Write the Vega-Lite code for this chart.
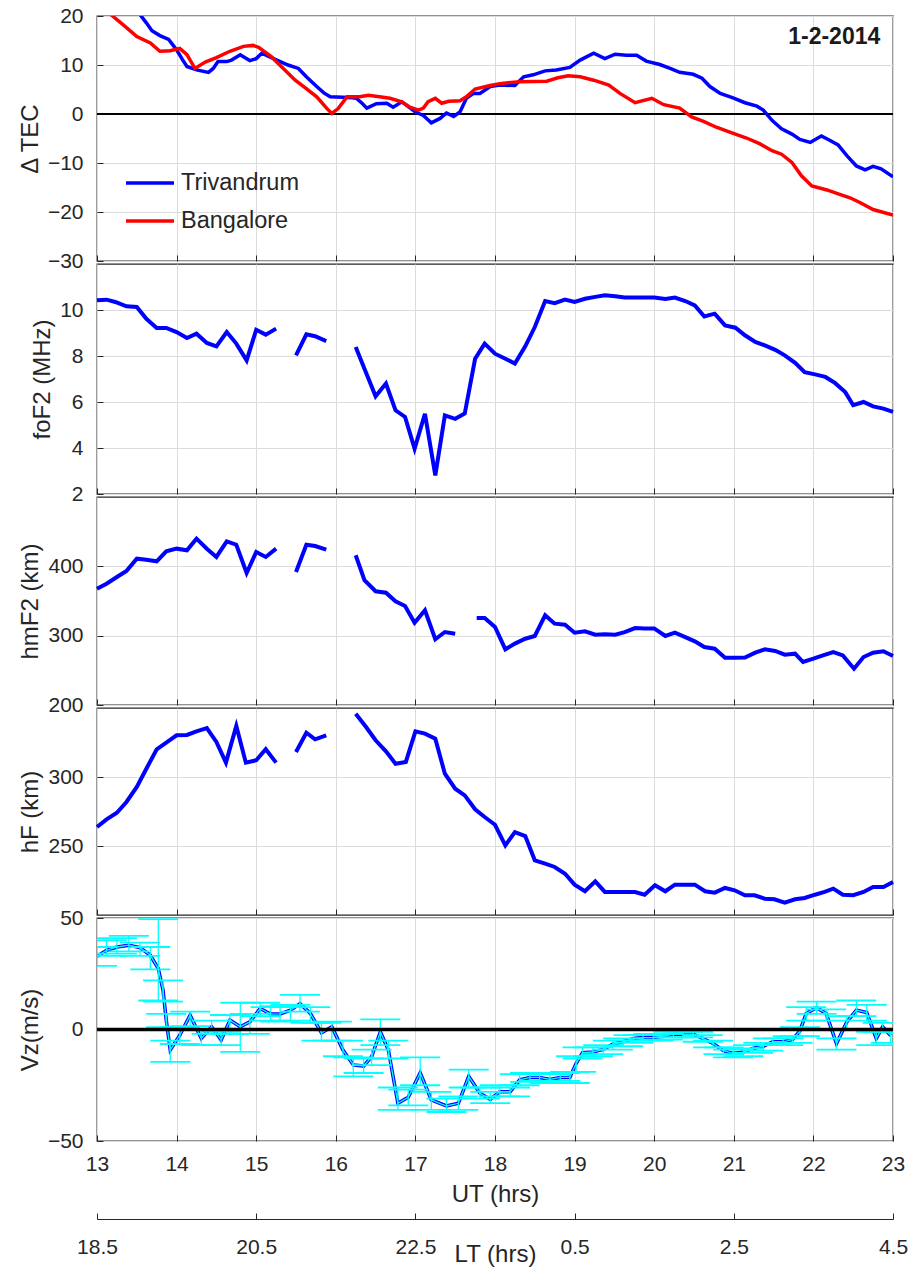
{
  "$schema": "https://vega.github.io/schema/vega-lite/v6.json",
  "background": "white",
  "padding": {"left": 17, "top": 4, "right": 5, "bottom": 2},
  "bounds": "flush",
  "spacing": 3,
  "config": {
    "font": "Liberation Sans",
    "view": {"stroke": "#262626", "strokeWidth": 1.3},
    "axis": {"labelFont": "Liberation Sans", "labelFontSize": 21, "labelColor": "#262626", "titleFont": "Liberation Sans", "titleFontSize": 24, "titleFontWeight": "normal", "titleColor": "#262626", "gridColor": "#dcdcdc", "gridWidth": 1, "tickColor": "#262626", "tickWidth": 1, "domain": false, "labelFlush": false, "labelOverlap": false},
    "axisX": {"tickSize": -6, "grid": true},
    "axisY": {"tickSize": -6, "labelPadding": 20, "titlePadding": 5, "grid": true}
  },
  "datasets": {
    "tec": [
      {"t":13.0,"v":30,"s":"Trivandrum"},{"t":13.25,"v":25.5,"s":"Trivandrum"},{"t":13.42,"v":22.4,"s":"Trivandrum"},{"t":13.54,"v":20.3,"s":"Trivandrum"},{"t":13.62,"v":18.6,"s":"Trivandrum"},{"t":13.69,"v":17,"s":"Trivandrum"},{"t":13.79,"v":16,"s":"Trivandrum"},{"t":13.9,"v":15.2,"s":"Trivandrum"},{"t":14.0,"v":13.1,"s":"Trivandrum"},{"t":14.07,"v":11.2,"s":"Trivandrum"},{"t":14.13,"v":9.7,"s":"Trivandrum"},{"t":14.25,"v":9.0,"s":"Trivandrum"},{"t":14.4,"v":8.5,"s":"Trivandrum"},{"t":14.46,"v":9.3,"s":"Trivandrum"},{"t":14.52,"v":10.7,"s":"Trivandrum"},{"t":14.63,"v":10.7,"s":"Trivandrum"},{"t":14.69,"v":11.0,"s":"Trivandrum"},{"t":14.8,"v":12.1,"s":"Trivandrum"},{"t":14.86,"v":11.5,"s":"Trivandrum"},{"t":14.92,"v":10.9,"s":"Trivandrum"},{"t":15.0,"v":11.3,"s":"Trivandrum"},{"t":15.07,"v":12.4,"s":"Trivandrum"},{"t":15.15,"v":11.8,"s":"Trivandrum"},{"t":15.26,"v":11.0,"s":"Trivandrum"},{"t":15.4,"v":10.0,"s":"Trivandrum"},{"t":15.53,"v":9.3,"s":"Trivandrum"},{"t":15.63,"v":7.6,"s":"Trivandrum"},{"t":15.76,"v":5.6,"s":"Trivandrum"},{"t":15.85,"v":4.3,"s":"Trivandrum"},{"t":15.93,"v":3.5,"s":"Trivandrum"},{"t":16.09,"v":3.4,"s":"Trivandrum"},{"t":16.2,"v":3.3,"s":"Trivandrum"},{"t":16.26,"v":3.2,"s":"Trivandrum"},{"t":16.33,"v":2.2,"s":"Trivandrum"},{"t":16.39,"v":1.2,"s":"Trivandrum"},{"t":16.51,"v":2.1,"s":"Trivandrum"},{"t":16.64,"v":2.2,"s":"Trivandrum"},{"t":16.72,"v":1.4,"s":"Trivandrum"},{"t":16.83,"v":2.5,"s":"Trivandrum"},{"t":16.92,"v":1.4,"s":"Trivandrum"},{"t":17.0,"v":0.4,"s":"Trivandrum"},{"t":17.1,"v":-0.3,"s":"Trivandrum"},{"t":17.2,"v":-1.8,"s":"Trivandrum"},{"t":17.31,"v":-0.9,"s":"Trivandrum"},{"t":17.39,"v":0.2,"s":"Trivandrum"},{"t":17.48,"v":-0.5,"s":"Trivandrum"},{"t":17.56,"v":0.4,"s":"Trivandrum"},{"t":17.64,"v":3.2,"s":"Trivandrum"},{"t":17.73,"v":4.2,"s":"Trivandrum"},{"t":17.81,"v":4.2,"s":"Trivandrum"},{"t":17.94,"v":5.6,"s":"Trivandrum"},{"t":18.06,"v":5.9,"s":"Trivandrum"},{"t":18.25,"v":5.8,"s":"Trivandrum"},{"t":18.36,"v":7.6,"s":"Trivandrum"},{"t":18.48,"v":8.0,"s":"Trivandrum"},{"t":18.63,"v":8.8,"s":"Trivandrum"},{"t":18.77,"v":9.0,"s":"Trivandrum"},{"t":18.94,"v":9.5,"s":"Trivandrum"},{"t":19.07,"v":11.0,"s":"Trivandrum"},{"t":19.24,"v":12.4,"s":"Trivandrum"},{"t":19.38,"v":11.3,"s":"Trivandrum"},{"t":19.51,"v":12.2,"s":"Trivandrum"},{"t":19.65,"v":12.0,"s":"Trivandrum"},{"t":19.78,"v":12.0,"s":"Trivandrum"},{"t":19.9,"v":10.8,"s":"Trivandrum"},{"t":20.07,"v":10.1,"s":"Trivandrum"},{"t":20.2,"v":9.3,"s":"Trivandrum"},{"t":20.32,"v":8.5,"s":"Trivandrum"},{"t":20.49,"v":8.1,"s":"Trivandrum"},{"t":20.6,"v":7.3,"s":"Trivandrum"},{"t":20.7,"v":5.6,"s":"Trivandrum"},{"t":20.83,"v":4.2,"s":"Trivandrum"},{"t":20.99,"v":3.3,"s":"Trivandrum"},{"t":21.14,"v":2.3,"s":"Trivandrum"},{"t":21.29,"v":1.6,"s":"Trivandrum"},{"t":21.37,"v":0.8,"s":"Trivandrum"},{"t":21.48,"v":-1.3,"s":"Trivandrum"},{"t":21.6,"v":-3.0,"s":"Trivandrum"},{"t":21.73,"v":-4.1,"s":"Trivandrum"},{"t":21.83,"v":-5.2,"s":"Trivandrum"},{"t":21.96,"v":-5.8,"s":"Trivandrum"},{"t":22.1,"v":-4.5,"s":"Trivandrum"},{"t":22.21,"v":-5.4,"s":"Trivandrum"},{"t":22.31,"v":-6.3,"s":"Trivandrum"},{"t":22.42,"v":-8.5,"s":"Trivandrum"},{"t":22.54,"v":-10.6,"s":"Trivandrum"},{"t":22.65,"v":-11.4,"s":"Trivandrum"},{"t":22.75,"v":-10.7,"s":"Trivandrum"},{"t":22.85,"v":-11.2,"s":"Trivandrum"},{"t":23.0,"v":-12.8,"s":"Trivandrum"},
      {"t":13.0,"v":22.8,"s":"Bangalore"},{"t":13.18,"v":20.2,"s":"Bangalore"},{"t":13.33,"v":18.2,"s":"Bangalore"},{"t":13.5,"v":15.8,"s":"Bangalore"},{"t":13.67,"v":14.5,"s":"Bangalore"},{"t":13.79,"v":12.8,"s":"Bangalore"},{"t":13.92,"v":12.9,"s":"Bangalore"},{"t":14.04,"v":13.4,"s":"Bangalore"},{"t":14.13,"v":12.1,"s":"Bangalore"},{"t":14.23,"v":9.3,"s":"Bangalore"},{"t":14.36,"v":10.6,"s":"Bangalore"},{"t":14.5,"v":11.5,"s":"Bangalore"},{"t":14.67,"v":12.8,"s":"Bangalore"},{"t":14.84,"v":13.8,"s":"Bangalore"},{"t":14.96,"v":14.0,"s":"Bangalore"},{"t":15.03,"v":13.6,"s":"Bangalore"},{"t":15.19,"v":11.7,"s":"Bangalore"},{"t":15.34,"v":9.3,"s":"Bangalore"},{"t":15.49,"v":6.9,"s":"Bangalore"},{"t":15.63,"v":5.2,"s":"Bangalore"},{"t":15.76,"v":3.5,"s":"Bangalore"},{"t":15.89,"v":1.1,"s":"Bangalore"},{"t":15.95,"v":0.1,"s":"Bangalore"},{"t":16.03,"v":1.1,"s":"Bangalore"},{"t":16.14,"v":3.5,"s":"Bangalore"},{"t":16.3,"v":3.5,"s":"Bangalore"},{"t":16.41,"v":3.8,"s":"Bangalore"},{"t":16.55,"v":3.5,"s":"Bangalore"},{"t":16.68,"v":3.2,"s":"Bangalore"},{"t":16.83,"v":2.5,"s":"Bangalore"},{"t":16.93,"v":1.4,"s":"Bangalore"},{"t":17.04,"v":0.8,"s":"Bangalore"},{"t":17.1,"v":1.2,"s":"Bangalore"},{"t":17.16,"v":2.5,"s":"Bangalore"},{"t":17.25,"v":3.2,"s":"Bangalore"},{"t":17.33,"v":2.2,"s":"Bangalore"},{"t":17.42,"v":2.6,"s":"Bangalore"},{"t":17.56,"v":2.7,"s":"Bangalore"},{"t":17.64,"v":3.5,"s":"Bangalore"},{"t":17.75,"v":5.1,"s":"Bangalore"},{"t":17.94,"v":5.8,"s":"Bangalore"},{"t":18.06,"v":6.2,"s":"Bangalore"},{"t":18.31,"v":6.6,"s":"Bangalore"},{"t":18.65,"v":6.7,"s":"Bangalore"},{"t":18.79,"v":7.4,"s":"Bangalore"},{"t":18.92,"v":7.8,"s":"Bangalore"},{"t":19.07,"v":7.6,"s":"Bangalore"},{"t":19.24,"v":6.9,"s":"Bangalore"},{"t":19.43,"v":5.9,"s":"Bangalore"},{"t":19.57,"v":4.2,"s":"Bangalore"},{"t":19.76,"v":2.3,"s":"Bangalore"},{"t":19.97,"v":3.2,"s":"Bangalore"},{"t":20.12,"v":1.9,"s":"Bangalore"},{"t":20.32,"v":1.2,"s":"Bangalore"},{"t":20.47,"v":-0.6,"s":"Bangalore"},{"t":20.62,"v":-1.5,"s":"Bangalore"},{"t":20.78,"v":-2.7,"s":"Bangalore"},{"t":20.95,"v":-3.7,"s":"Bangalore"},{"t":21.16,"v":-4.9,"s":"Bangalore"},{"t":21.33,"v":-6.1,"s":"Bangalore"},{"t":21.48,"v":-7.5,"s":"Bangalore"},{"t":21.6,"v":-8.2,"s":"Bangalore"},{"t":21.73,"v":-9.9,"s":"Bangalore"},{"t":21.85,"v":-12.6,"s":"Bangalore"},{"t":21.98,"v":-14.7,"s":"Bangalore"},{"t":22.17,"v":-15.5,"s":"Bangalore"},{"t":22.33,"v":-16.4,"s":"Bangalore"},{"t":22.46,"v":-17.1,"s":"Bangalore"},{"t":22.59,"v":-18.1,"s":"Bangalore"},{"t":22.75,"v":-19.5,"s":"Bangalore"},{"t":23.0,"v":-20.6,"s":"Bangalore"}
    ],
    "fof2": [
      {"t":13.0,"v":10.42,"g":1},{"t":13.12,"v":10.45,"g":1},{"t":13.23,"v":10.35,"g":1},{"t":13.37,"v":10.16,"g":1},{"t":13.5,"v":10.13,"g":1},{"t":13.62,"v":9.62,"g":1},{"t":13.75,"v":9.22,"g":1},{"t":13.87,"v":9.22,"g":1},{"t":14.0,"v":9.04,"g":1},{"t":14.13,"v":8.78,"g":1},{"t":14.25,"v":8.97,"g":1},{"t":14.38,"v":8.57,"g":1},{"t":14.5,"v":8.42,"g":1},{"t":14.63,"v":9.04,"g":1},{"t":14.75,"v":8.54,"g":1},{"t":14.88,"v":7.81,"g":1},{"t":15.0,"v":9.14,"g":1},{"t":15.12,"v":8.93,"g":1},{"t":15.25,"v":9.19,"g":1},
      {"t":15.5,"v":8.03,"g":2},{"t":15.63,"v":8.94,"g":2},{"t":15.74,"v":8.86,"g":2},{"t":15.88,"v":8.65,"g":2},
      {"t":16.25,"v":8.39,"g":3},{"t":16.36,"v":7.45,"g":3},{"t":16.5,"v":6.25,"g":3},{"t":16.63,"v":6.8,"g":3},{"t":16.75,"v":5.64,"g":3},{"t":16.87,"v":5.35,"g":3},{"t":16.99,"v":3.97,"g":3},{"t":17.12,"v":5.49,"g":3},{"t":17.25,"v":2.81,"g":3},{"t":17.37,"v":5.42,"g":3},{"t":17.5,"v":5.27,"g":3},{"t":17.62,"v":5.5,"g":3},{"t":17.75,"v":7.88,"g":3},{"t":17.87,"v":8.54,"g":3},{"t":18.0,"v":8.1,"g":3},{"t":18.13,"v":7.88,"g":3},{"t":18.25,"v":7.67,"g":3},{"t":18.38,"v":8.42,"g":3},{"t":18.5,"v":9.26,"g":3},{"t":18.63,"v":10.39,"g":3},{"t":18.75,"v":10.3,"g":3},{"t":18.88,"v":10.45,"g":3},{"t":19.0,"v":10.35,"g":3},{"t":19.13,"v":10.49,"g":3},{"t":19.26,"v":10.57,"g":3},{"t":19.38,"v":10.64,"g":3},{"t":19.51,"v":10.6,"g":3},{"t":19.63,"v":10.54,"g":3},{"t":19.76,"v":10.54,"g":3},{"t":19.88,"v":10.54,"g":3},{"t":20.0,"v":10.54,"g":3},{"t":20.14,"v":10.48,"g":3},{"t":20.26,"v":10.54,"g":3},{"t":20.39,"v":10.39,"g":3},{"t":20.51,"v":10.2,"g":3},{"t":20.63,"v":9.72,"g":3},{"t":20.76,"v":9.84,"g":3},{"t":20.89,"v":9.33,"g":3},{"t":21.02,"v":9.23,"g":3},{"t":21.14,"v":8.9,"g":3},{"t":21.27,"v":8.61,"g":3},{"t":21.39,"v":8.46,"g":3},{"t":21.52,"v":8.27,"g":3},{"t":21.64,"v":8.03,"g":3},{"t":21.77,"v":7.7,"g":3},{"t":21.89,"v":7.3,"g":3},{"t":22.02,"v":7.2,"g":3},{"t":22.15,"v":7.09,"g":3},{"t":22.27,"v":6.83,"g":3},{"t":22.4,"v":6.43,"g":3},{"t":22.5,"v":5.86,"g":3},{"t":22.63,"v":6.0,"g":3},{"t":22.75,"v":5.81,"g":3},{"t":22.88,"v":5.71,"g":3},{"t":23.0,"v":5.57,"g":3}
    ],
    "hmf2": [
      {"t":13.0,"v":367.7,"g":1},{"t":13.12,"v":375,"g":1},{"t":13.25,"v":384.6,"g":1},{"t":13.37,"v":393.3,"g":1},{"t":13.5,"v":411,"g":1},{"t":13.62,"v":409.6,"g":1},{"t":13.75,"v":407.2,"g":1},{"t":13.87,"v":421.7,"g":1},{"t":14.0,"v":425.5,"g":1},{"t":14.13,"v":423.1,"g":1},{"t":14.25,"v":439.9,"g":1},{"t":14.38,"v":425.5,"g":1},{"t":14.5,"v":413.5,"g":1},{"t":14.63,"v":436.1,"g":1},{"t":14.75,"v":431.2,"g":1},{"t":14.88,"v":390.4,"g":1},{"t":15.0,"v":420.7,"g":1},{"t":15.12,"v":413.5,"g":1},{"t":15.25,"v":425.5,"g":1},
      {"t":15.5,"v":391.8,"g":2},{"t":15.63,"v":431.2,"g":2},{"t":15.74,"v":429.3,"g":2},{"t":15.88,"v":424,"g":2},
      {"t":16.25,"v":416,"g":3},{"t":16.36,"v":379.9,"g":3},{"t":16.5,"v":364,"g":3},{"t":16.63,"v":362,"g":3},{"t":16.75,"v":349.6,"g":3},{"t":16.87,"v":342.8,"g":3},{"t":16.99,"v":318.7,"g":3},{"t":17.12,"v":336.6,"g":3},{"t":17.25,"v":294.8,"g":3},{"t":17.37,"v":305.3,"g":3},{"t":17.5,"v":302.9,"g":3},
      {"t":17.77,"v":325.5,"g":4},{"t":17.87,"v":325.5,"g":4},{"t":18.0,"v":312.5,"g":4},{"t":18.13,"v":280.3,"g":4},{"t":18.25,"v":288.5,"g":4},{"t":18.38,"v":295.6,"g":4},{"t":18.5,"v":299.5,"g":4},{"t":18.63,"v":329.4,"g":4},{"t":18.75,"v":317.3,"g":4},{"t":18.88,"v":315.8,"g":4},{"t":19.0,"v":304.3,"g":4},{"t":19.13,"v":306.3,"g":4},{"t":19.26,"v":301.4,"g":4},{"t":19.38,"v":302,"g":4},{"t":19.51,"v":301.4,"g":4},{"t":19.63,"v":305,"g":4},{"t":19.76,"v":311,"g":4},{"t":19.88,"v":310.5,"g":4},{"t":20.0,"v":310.5,"g":4},{"t":20.14,"v":299.5,"g":4},{"t":20.26,"v":304.3,"g":4},{"t":20.39,"v":298,"g":4},{"t":20.51,"v":291.8,"g":4},{"t":20.63,"v":283.6,"g":4},{"t":20.76,"v":281.2,"g":4},{"t":20.89,"v":268.3,"g":4},{"t":21.02,"v":268,"g":4},{"t":21.14,"v":268.5,"g":4},{"t":21.27,"v":275.5,"g":4},{"t":21.39,"v":280.3,"g":4},{"t":21.52,"v":278,"g":4},{"t":21.64,"v":272.6,"g":4},{"t":21.77,"v":274,"g":4},{"t":21.87,"v":262,"g":4},{"t":22.0,"v":266.8,"g":4},{"t":22.12,"v":271.6,"g":4},{"t":22.25,"v":276.4,"g":4},{"t":22.37,"v":271.6,"g":4},{"t":22.51,"v":252.4,"g":4},{"t":22.63,"v":269.2,"g":4},{"t":22.75,"v":275.5,"g":4},{"t":22.88,"v":277.5,"g":4},{"t":23.0,"v":270.7,"g":4}
    ],
    "hf": [
      {"t":13.0,"v":263.8,"g":1},{"t":13.12,"v":269.3,"g":1},{"t":13.25,"v":274.1,"g":1},{"t":13.37,"v":281.9,"g":1},{"t":13.5,"v":292.8,"g":1},{"t":13.62,"v":306,"g":1},{"t":13.75,"v":320.1,"g":1},{"t":13.87,"v":324.9,"g":1},{"t":14.0,"v":330.2,"g":1},{"t":14.13,"v":330.5,"g":1},{"t":14.25,"v":333.1,"g":1},{"t":14.38,"v":335.5,"g":1},{"t":14.5,"v":325.4,"g":1},{"t":14.62,"v":310.4,"g":1},{"t":14.75,"v":337,"g":1},{"t":14.87,"v":310.4,"g":1},{"t":15.0,"v":312.1,"g":1},{"t":15.12,"v":320.1,"g":1},{"t":15.25,"v":310.4,"g":1},
      {"t":15.5,"v":318.1,"g":2},{"t":15.63,"v":332.1,"g":2},{"t":15.74,"v":327.3,"g":2},{"t":15.88,"v":330.2,"g":2},
      {"t":16.25,"v":345.9,"g":3},{"t":16.38,"v":336.2,"g":3},{"t":16.5,"v":326.6,"g":3},{"t":16.63,"v":318.6,"g":3},{"t":16.75,"v":309.6,"g":3},{"t":16.88,"v":310.9,"g":3},{"t":17.0,"v":333.1,"g":3},{"t":17.12,"v":331.4,"g":3},{"t":17.25,"v":327.8,"g":3},{"t":17.37,"v":302.4,"g":3},{"t":17.5,"v":291.5,"g":3},{"t":17.62,"v":286.7,"g":3},{"t":17.75,"v":276.6,"g":3},{"t":17.87,"v":271,"g":3},{"t":18.0,"v":265.4,"g":3},{"t":18.13,"v":250.5,"g":3},{"t":18.25,"v":260.1,"g":3},{"t":18.38,"v":257.2,"g":3},{"t":18.5,"v":239.6,"g":3},{"t":18.63,"v":237.2,"g":3},{"t":18.75,"v":234.8,"g":3},{"t":18.88,"v":229.9,"g":3},{"t":19.0,"v":222,"g":3},{"t":19.13,"v":217.2,"g":3},{"t":19.26,"v":224.4,"g":3},{"t":19.38,"v":216.7,"g":3},{"t":19.51,"v":216.7,"g":3},{"t":19.63,"v":216.7,"g":3},{"t":19.76,"v":216.7,"g":3},{"t":19.88,"v":214.7,"g":3},{"t":20.01,"v":221.5,"g":3},{"t":20.14,"v":217.2,"g":3},{"t":20.26,"v":222,"g":3},{"t":20.39,"v":222,"g":3},{"t":20.51,"v":222,"g":3},{"t":20.64,"v":217.2,"g":3},{"t":20.76,"v":216.2,"g":3},{"t":20.89,"v":219.6,"g":3},{"t":21.01,"v":217.9,"g":3},{"t":21.14,"v":214.3,"g":3},{"t":21.26,"v":214.3,"g":3},{"t":21.39,"v":211.8,"g":3},{"t":21.51,"v":211.4,"g":3},{"t":21.64,"v":208.9,"g":3},{"t":21.77,"v":211.4,"g":3},{"t":21.89,"v":212.3,"g":3},{"t":22.02,"v":214.7,"g":3},{"t":22.14,"v":216.7,"g":3},{"t":22.25,"v":219.1,"g":3},{"t":22.37,"v":214.7,"g":3},{"t":22.5,"v":214.3,"g":3},{"t":22.63,"v":216.7,"g":3},{"t":22.75,"v":220.3,"g":3},{"t":22.88,"v":220.3,"g":3},{"t":23.0,"v":223.9,"g":3}
    ],
    "vz": [
      {"t":13.0,"v":32.8,"lo":28.5,"hi":37},{"t":13.12,"v":35.5,"lo":33,"hi":40},{"t":13.25,"v":37,"lo":34,"hi":41},{"t":13.4,"v":37.8,"lo":35,"hi":42},{"t":13.54,"v":36.7,"lo":33,"hi":39},{"t":13.67,"v":33.3,"lo":27,"hi":37},{"t":13.77,"v":27.3,"lo":13,"hi":49.5},{"t":13.83,"v":17.6,"lo":12.5,"hi":22},{"t":13.87,"v":4.2,"lo":1,"hi":7},{"t":13.92,"v":-9.2,"lo":-14.5,"hi":-5},{"t":14.04,"v":-2.5,"lo":-6.5,"hi":1},{"t":14.17,"v":6.4,"lo":1.5,"hi":8},{"t":14.31,"v":-4.0,"lo":-7,"hi":0},{"t":14.44,"v":1.2,"lo":-2,"hi":4},{"t":14.56,"v":-4.7,"lo":-7,"hi":-1},{"t":14.67,"v":4.2,"lo":-2,"hi":6.5},{"t":14.8,"v":1.2,"lo":-10,"hi":12},{"t":14.92,"v":3.4,"lo":-2,"hi":7},{"t":15.05,"v":9.4,"lo":6,"hi":12},{"t":15.18,"v":6.9,"lo":4,"hi":10},{"t":15.3,"v":7,"lo":3.5,"hi":10.5},{"t":15.43,"v":8.7,"lo":4,"hi":11},{"t":15.55,"v":11.6,"lo":8,"hi":15.5},{"t":15.68,"v":7.2,"lo":3,"hi":10},{"t":15.82,"v":-1.5,"lo":-5,"hi":3},{"t":15.95,"v":1.2,"lo":-5,"hi":3.5},{"t":16.09,"v":-9.2,"lo":-12,"hi":-5},{"t":16.22,"v":-15.9,"lo":-21,"hi":-12.5},{"t":16.35,"v":-16.4,"lo":-19.5,"hi":-13},{"t":16.45,"v":-12.2,"lo":-16,"hi":-9},{"t":16.56,"v":-1.0,"lo":-7,"hi":4.5},{"t":16.66,"v":-9.2,"lo":-13,"hi":-5},{"t":16.78,"v":-33.1,"lo":-36,"hi":-26},{"t":16.91,"v":-30.4,"lo":-34,"hi":-27},{"t":17.06,"v":-19.4,"lo":-25,"hi":-12.5},{"t":17.2,"v":-31.6,"lo":-36,"hi":-28},{"t":17.39,"v":-34.3,"lo":-37,"hi":-31},{"t":17.54,"v":-33.1,"lo":-36,"hi":-30},{"t":17.67,"v":-21,"lo":-26,"hi":-18},{"t":17.81,"v":-28.6,"lo":-31,"hi":-26},{"t":17.94,"v":-31.3,"lo":-33,"hi":-28},{"t":18.06,"v":-27.9,"lo":-30,"hi":-25},{"t":18.19,"v":-27.9,"lo":-30,"hi":-26},{"t":18.31,"v":-22.6,"lo":-25,"hi":-20},{"t":18.44,"v":-21.5,"lo":-23.5,"hi":-19.5},{"t":18.56,"v":-21.5,"lo":-23,"hi":-19.5},{"t":18.69,"v":-22.4,"lo":-24,"hi":-20},{"t":18.82,"v":-21.5,"lo":-23,"hi":-19.5},{"t":18.94,"v":-21.5,"lo":-24,"hi":-19},{"t":19.02,"v":-15.2,"lo":-19,"hi":-12},{"t":19.1,"v":-10.4,"lo":-13,"hi":-8},{"t":19.23,"v":-10.1,"lo":-12,"hi":-8},{"t":19.36,"v":-8.9,"lo":-11,"hi":-7},{"t":19.48,"v":-6.6,"lo":-9,"hi":-5},{"t":19.61,"v":-5.5,"lo":-7.5,"hi":-4},{"t":19.74,"v":-4.0,"lo":-6,"hi":-2.5},{"t":19.86,"v":-3.6,"lo":-5,"hi":-2.5},{"t":19.99,"v":-3.6,"lo":-5,"hi":-2},{"t":20.11,"v":-3.0,"lo":-4.5,"hi":-2},{"t":20.24,"v":-2.1,"lo":-3.5,"hi":-1},{"t":20.36,"v":-2.1,"lo":-3.5,"hi":-1},{"t":20.49,"v":-2.1,"lo":-3.5,"hi":-1},{"t":20.61,"v":-4.0,"lo":-5.5,"hi":-2.5},{"t":20.74,"v":-6.3,"lo":-8,"hi":-5},{"t":20.87,"v":-9.5,"lo":-11,"hi":-8},{"t":20.99,"v":-10.7,"lo":-12.5,"hi":-9},{"t":21.12,"v":-10.1,"lo":-12,"hi":-8.5},{"t":21.24,"v":-8.5,"lo":-10.5,"hi":-7},{"t":21.37,"v":-7.5,"lo":-9.5,"hi":-6},{"t":21.49,"v":-5.5,"lo":-7,"hi":-4},{"t":21.62,"v":-5.5,"lo":-7,"hi":-4},{"t":21.74,"v":-4.5,"lo":-6,"hi":-3},{"t":21.83,"v":-0.6,"lo":-3,"hi":1},{"t":21.91,"v":7.2,"lo":4,"hi":10},{"t":22.04,"v":9.8,"lo":7,"hi":12.5},{"t":22.16,"v":7.2,"lo":4,"hi":9},{"t":22.29,"v":-6.3,"lo":-9,"hi":-4},{"t":22.42,"v":3.4,"lo":0,"hi":6},{"t":22.54,"v":8.7,"lo":6,"hi":13},{"t":22.67,"v":7.6,"lo":4,"hi":11},{"t":22.79,"v":-4.0,"lo":-7,"hi":-1},{"t":22.87,"v":1.2,"lo":-1,"hi":3},{"t":22.97,"v":-2.7,"lo":-6,"hi":-1}
    ]
  },
  "vconcat": [
    {
      "width": 796, "height": 245,
      "layer": [
        {
          "data": {"values": [{}]},
          "mark": {"type": "rule", "color": "black", "strokeWidth": 2},
          "encoding": {"y": {"datum": 0, "type": "quantitative", "scale": {"domain": [-30, 20], "nice": false, "zero": false}, "title": "Δ TEC", "axis": {"values": [-30, -20, -10, 0, 10, 20]}}}
        },
        {
          "data": {"name": "tec"},
          "mark": {"type": "line", "strokeWidth": 3.5, "clip": true},
          "encoding": {
            "x": {"field": "t", "type": "quantitative", "scale": {"domain": [13, 23], "nice": false, "zero": false}, "axis": {"values": [13,14,15,16,17,18,19,20,21,22,23], "labels": false, "title": null}},
            "y": {"field": "v", "type": "quantitative", "scale": {"domain": [-30, 20], "nice": false, "zero": false}, "title": "Δ TEC", "axis": {"values": [-30, -20, -10, 0, 10, 20]}},
            "color": {"field": "s", "type": "nominal", "scale": {"domain": ["Trivandrum", "Bangalore"], "range": ["#0000ff", "#ff0000"]},
              "legend": {"title": null, "orient": "none", "legendX": 27, "legendY": 141, "symbolType": "stroke", "symbolSize": 2304, "symbolStrokeWidth": 3.5, "labelFontSize": 23.5, "labelColor": "#262626", "labelFont": "Liberation Sans", "rowPadding": -7, "padding": 0, "labelOffset": 5}}
          }
        },
        {
          "data": {"values": [{}]},
          "mark": {"type": "text", "text": "1-2-2014", "align": "right", "baseline": "middle", "fontSize": 23, "fontWeight": "bold", "font": "Liberation Sans", "color": "#1a1a1a"},
          "encoding": {"x": {"datum": 22.84, "type": "quantitative"}, "y": {"datum": 15.7, "type": "quantitative"}}
        }
      ]
    },
    {
      "width": 796, "height": 230,
      "data": {"name": "fof2"},
      "mark": {"type": "line", "color": "#0000ff", "strokeWidth": 4},
      "encoding": {
        "x": {"field": "t", "type": "quantitative", "scale": {"domain": [13, 23], "nice": false, "zero": false}, "axis": {"values": [13,14,15,16,17,18,19,20,21,22,23], "labels": false, "title": null}},
        "y": {"field": "v", "type": "quantitative", "scale": {"domain": [2, 12], "nice": false, "zero": false}, "title": "foF2 (MHz)", "axis": {"values": [2, 4, 6, 8, 10]}},
        "detail": {"field": "g"}
      }
    },
    {
      "width": 796, "height": 208,
      "data": {"name": "hmf2"},
      "mark": {"type": "line", "color": "#0000ff", "strokeWidth": 4},
      "encoding": {
        "x": {"field": "t", "type": "quantitative", "scale": {"domain": [13, 23], "nice": false, "zero": false}, "axis": {"values": [13,14,15,16,17,18,19,20,21,22,23], "labels": false, "title": null}},
        "y": {"field": "v", "type": "quantitative", "scale": {"domain": [200, 500], "nice": false, "zero": false}, "title": "hmF2 (km)", "axis": {"values": [200, 300, 400]}},
        "detail": {"field": "g"}
      }
    },
    {
      "width": 796, "height": 207,
      "data": {"name": "hf"},
      "mark": {"type": "line", "color": "#0000ff", "strokeWidth": 4},
      "encoding": {
        "x": {"field": "t", "type": "quantitative", "scale": {"domain": [13, 23], "nice": false, "zero": false}, "axis": {"values": [13,14,15,16,17,18,19,20,21,22,23], "labels": false, "title": null}},
        "y": {"field": "v", "type": "quantitative", "scale": {"domain": [200, 350], "nice": false, "zero": false}, "title": "hF (km)", "axis": {"values": [250, 300]}},
        "detail": {"field": "g"}
      }
    },
    {
      "width": 796, "height": 223,
      "resolve": {"axis": {"x": "independent"}},
      "layer": [
        {
          "data": {"name": "vz"},
          "mark": {"type": "line", "color": "#0000ff", "strokeWidth": 3.5, "clip": true},
          "encoding": {
            "x": {"field": "t", "type": "quantitative", "scale": {"domain": [13, 23], "nice": false, "zero": false}, "axis": {"orient": "bottom", "values": [13,14,15,16,17,18,19,20,21,22,23], "title": "UT (hrs)", "labelPadding": 18, "titlePadding": 8}},
            "y": {"field": "v", "type": "quantitative", "scale": {"domain": [-50, 50], "nice": false, "zero": false}, "title": "Vz(m/s)", "axis": {"values": [-50, 0, 50]}}
          }
        },
        {
          "data": {"name": "vz"},
          "mark": {"type": "line", "color": "#00ffff", "strokeWidth": 1.3, "clip": true},
          "encoding": {
            "x": {"field": "t", "type": "quantitative", "axis": {"orient": "bottom", "offset": 78, "values": [13, 15, 17, 19, 21, 23], "labelExpr": "format((datum.value + 5.5) % 24, '.1f')", "title": "LT (hrs)", "grid": false, "domain": true, "domainColor": "#262626", "domainWidth": 1.2, "tickSize": -6, "labelPadding": 23, "titlePadding": -15}},
            "y": {"field": "v", "type": "quantitative", "title": "Vz(m/s)", "axis": {"values": [-50, 0, 50]}}
          }
        },
        {
          "data": {"name": "vz"},
          "mark": {"type": "rule", "color": "#00ffff", "strokeWidth": 1.3, "clip": true},
          "encoding": {
            "x": {"field": "t", "type": "quantitative", "axis": null},
            "y": {"field": "lo", "type": "quantitative", "title": "Vz(m/s)", "axis": {"values": [-50, 0, 50]}},
            "y2": {"field": "hi"}
          }
        },
        {
          "data": {"name": "vz"},
          "mark": {"type": "point", "shape": "M-1,0L1,0", "size": 1600, "filled": false, "stroke": "#00ffff", "strokeWidth": 1.8, "opacity": 1, "clip": true},
          "encoding": {
            "x": {"field": "t", "type": "quantitative", "axis": null},
            "y": {"field": "lo", "type": "quantitative", "title": "Vz(m/s)", "axis": {"values": [-50, 0, 50]}}
          }
        },
        {
          "data": {"name": "vz"},
          "mark": {"type": "point", "shape": "M-1,0L1,0", "size": 1600, "filled": false, "stroke": "#00ffff", "strokeWidth": 1.8, "opacity": 1, "clip": true},
          "encoding": {
            "x": {"field": "t", "type": "quantitative", "axis": null},
            "y": {"field": "hi", "type": "quantitative", "title": "Vz(m/s)", "axis": {"values": [-50, 0, 50]}}
          }
        },
        {
          "data": {"values": [{}]},
          "mark": {"type": "rule", "color": "black", "strokeWidth": 3.5},
          "encoding": {"y": {"datum": 0, "type": "quantitative", "title": "Vz(m/s)", "axis": {"values": [-50, 0, 50]}}}
        }
      ]
    }
  ]
}
